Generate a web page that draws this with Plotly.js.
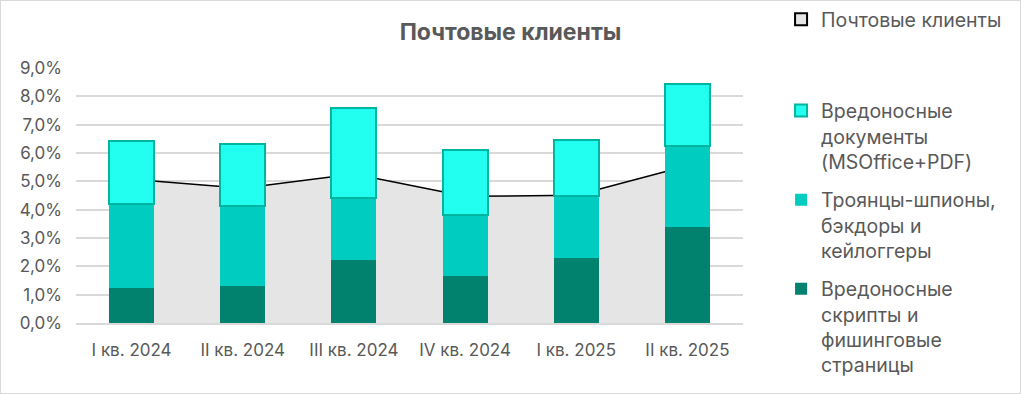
<!DOCTYPE html>
<html><head><meta charset="utf-8">
<script src="https://cdn.plot.ly/plotly-3.0.1.min.js"></script>
<style>
html,body{margin:0;padding:0;background:#fff;}
#wrap{position:relative;width:1021px;height:394px;}
#wrap::after{content:"";position:absolute;left:0;top:0;right:0;bottom:0;border:1px solid #d9d9d9;pointer-events:none;box-sizing:border-box;}
#chart{width:1021px;height:394px;}
</style></head>
<body><div id="wrap"><div id="chart"></div></div>
<script>
const categories = ['I кв. 2024','II кв. 2024','III кв. 2024','IV кв. 2024','I кв. 2025','II кв. 2025'];
const mailClients = [5.07, 4.76, 5.26, 4.47, 4.51, 5.55];
const scriptsPhishing = [1.25, 1.31, 2.23, 1.67, 2.30, 3.39];
const trojansSpy = [2.95, 2.83, 2.18, 2.14, 2.18, 2.84];
const maliciousDocs = [2.24, 2.18, 3.18, 2.30, 1.99, 2.19];
const nameMail = 'Почтовые клиенты';
const nameScripts = 'Вредоносные<br>скрипты и<br>фишинговые<br>страницы';
const nameTrojans = 'Троянцы-шпионы,<br>бэкдоры и<br>кейлоггеры';
const nameDocs = 'Вредоносные<br>документы<br>(MSOffice+PDF)';
const yTicks = [0,1,2,3,4,5,6,7,8,9];
const yTickText = ['0,0%','1,0%','2,0%','3,0%','4,0%','5,0%','6,0%','7,0%','8,0%','9,0%'];

const FONT = 'Inter, "Noto Sans", sans-serif';
const GREY = '#595959';

const traces = [
  {type:'scatter', mode:'lines', x:categories, y:mailClients, xaxis:'x', yaxis:'y',
   fill:'tozeroy', fillcolor:'#e5e5e5', line:{color:'#000', width:1.5}, showlegend:false, hoverinfo:'skip'},
  {type:'bar', x:categories, y:mailClients.map(()=>null), name:nameMail, xaxis:'x', yaxis:'y',
   marker:{color:'#e5e5e5', line:{color:'#000', width:2}}, legend:'legend', showlegend:true},
  {type:'bar', x:categories, y:scriptsPhishing, name:nameScripts, xaxis:'x', yaxis:'y2',
   marker:{color:'#00826e'}, legend:'legend2', legendgroup:'c', legendrank:3, width:0.405},
  {type:'bar', x:categories, y:trojansSpy, name:nameTrojans, xaxis:'x', yaxis:'y2',
   marker:{color:'#00ccbf'}, legend:'legend2', legendgroup:'b', legendrank:2, width:0.405},
  {type:'bar', x:categories, y:maliciousDocs, name:nameDocs, xaxis:'x', yaxis:'y2',
   marker:{color:'#22fff0', line:{color:'#00b4a0', width:2}}, legend:'legend2', legendgroup:'a', legendrank:1, width:0.405}
];

const layout = {
  width:1021, height:394,
  margin:{l:76, r:278, t:68, b:71},
  paper_bgcolor:'#fff', plot_bgcolor:'#fff',
  barmode:'stack',
  font:{family:FONT, color:GREY, size:17},
  title:{text:'<b>Почтовые клиенты</b>', font:{family:FONT, size:23, color:GREY},
         xref:'container', x:0.5, yref:'container', y:0.918, yanchor:'middle', xanchor:'center'},
  xaxis:{type:'category', range:[-0.5,5.5], showgrid:false, showline:true, linecolor:'#d9d9d9', linewidth:2,
         ticks:'', tickfont:{family:FONT, size:17, color:GREY}, ticklabelstandoff:11},
  yaxis:{range:[0,9], tickvals:yTicks, ticktext:yTickText, showgrid:true, gridcolor:'#d9d9d9', gridwidth:2,
         zeroline:false, showline:false, ticks:'', tickfont:{family:FONT, size:17, color:GREY}, ticklabelstandoff:13},
  yaxis2:{range:[0,9], overlaying:'y', visible:false, showgrid:false},
  legend:{xref:'container', x:0.765, xanchor:'left', yref:'container', y:1.0, yanchor:'top',
          font:{family:FONT, size:19.5, color:GREY}, bgcolor:'rgba(0,0,0,0)'},
  legend2:{xref:'container', x:0.765, xanchor:'left', yref:'container', y:0.768, yanchor:'top',
           traceorder:'grouped', tracegroupgap:10, valign:'top', maxheight:320,
           font:{family:FONT, size:19.5, color:GREY}, bgcolor:'rgba(0,0,0,0)'},
  showlegend:true
};

Plotly.newPlot('chart', traces, layout, {displayModeBar:false, staticPlot:true});
</script></body></html>
